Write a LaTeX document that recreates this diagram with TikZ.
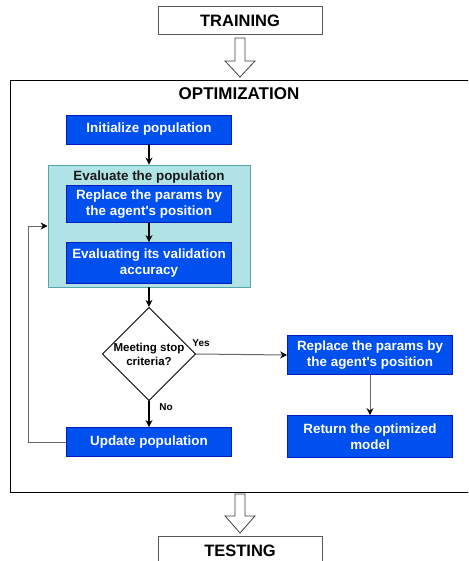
\documentclass[tikz,border=0pt]{standalone}
\usepackage{fontspec}
\setmainfont{Liberation Sans}
\usetikzlibrary{arrows.meta,shapes.geometric}
\definecolor{bluefill}{RGB}{0,80,239}
\definecolor{bluedraw}{RGB}{0,29,188}
\definecolor{tealfill}{RGB}{176,227,230}
\definecolor{tealdraw}{RGB}{14,128,136}
\tikzset{
  bluebox/.style={draw=bluedraw, fill=bluefill, text=white, font=\bfseries\fontsize{13.4}{16}\selectfont,
    align=center, minimum width=165pt, inner sep=0pt, line width=0.8pt},
  plainbox/.style={draw=black!65, fill=white, font=\bfseries\fontsize{16.5}{19}\selectfont,
    minimum width=164pt, inner sep=0pt, line width=1pt},
  darrow/.style={line width=1.4pt, -{Stealth[length=7pt,width=7pt]}},
  garrow/.style={line width=1pt, draw=black!60, -{Stealth[length=7pt,width=7pt,color=black]}},
  lbl/.style={font=\bfseries\fontsize{10}{12}\selectfont, inner sep=0pt},
  hollowarrow/.style={draw=black!75, fill=white, line width=0.8pt, line join=miter}
}
\begin{document}
\begin{tikzpicture}[x=1pt,y=-1pt]
\useasboundingbox (0,0) rectangle (468,561);
\clip (0,0) rectangle (468,561);

% outer boxes
\node[plainbox, minimum height=28pt] (train) at (240,21) {TRAINING};
\node[plainbox, minimum height=40pt, anchor=north] (test) at (240,536) {};
\node[font=\bfseries\fontsize{16.5}{19}\selectfont] (testlbl) at (240,550.5) {TESTING};

\node[draw=black, line width=1pt, minimum width=470pt, minimum height=412pt, inner sep=0pt, anchor=north west] (opt) at (10,80) {};
\node[font=\bfseries\fontsize{17}{20}\selectfont] (opttitle) at (239,94) {OPTIMIZATION};

% hollow block arrows
\coordinate (a1) at (240,38);
\draw[hollowarrow] (a1) ++(-5,0) -- ++(0,23) -- ++(-10,0) -- ++(15,16) -- ++(15,-16) -- ++(-10,0) -- ++(0,-23) -- cycle;
\coordinate (a2) at (240,494);
\draw[hollowarrow] (a2) ++(-5,0) -- ++(0,22) -- ++(-10,0) -- ++(15,17) -- ++(15,-17) -- ++(-10,0) -- ++(0,-22) -- cycle;

% evaluation group
\node[draw=tealdraw!70, fill=tealfill, line width=0.8pt, minimum width=202pt, minimum height=122pt, inner sep=0pt] (evalgrp) at (149,226) {};
\node[font=\bfseries\fontsize{13.4}{16}\selectfont, text=black!90] (evaltitle) at (149,177) {Evaluate the population};

\node[bluebox, minimum height=29pt] (init) at (149,129.5) {Initialize population};
\node[bluebox, minimum height=37pt] (rep1) at (149,204) {Replace the params by\\the agent\textquotesingle s position};
\node[bluebox, minimum height=41pt] (evacc) at (149,263) {Evaluating its validation\\accuracy};

\node[draw=black, fill=white, diamond, aspect=1.0, minimum width=92pt, minimum height=88pt, inner sep=0pt,
  font=\bfseries\fontsize{11.5}{14}\selectfont, align=center, line width=0.8pt] (dec) at (149,354) {Meeting stop\\criteria?};

\node[bluebox, minimum height=29pt] (upd) at (149,442) {Update population};
\node[bluebox, minimum height=39pt] (rep2) at (370,355) {Replace the params by\\the agent\textquotesingle s position};
\node[bluebox, minimum height=42pt] (ret) at (370,436.5) {Return the optimized\\model};

% connectors
\draw[darrow] (init.south) -- (evalgrp.north);
\draw[darrow] (rep1.south) -- (evacc.north);
\draw[darrow] (evalgrp.south) -- (dec.north);
\draw[darrow] (dec.south) -- (upd.north);
\draw[garrow] (dec.east) -- (rep2.west);
\draw[garrow] (rep2.south) -- (ret.north);
\coordinate (fb) at (28,226);
\draw[garrow] (upd.west) -| (fb) -- (evalgrp.west |- fb);

\node[lbl] (yes) at (201,343.5) {Yes};
\node[lbl] (no) at (166,407.5) {No};
\end{tikzpicture}
\end{document}
